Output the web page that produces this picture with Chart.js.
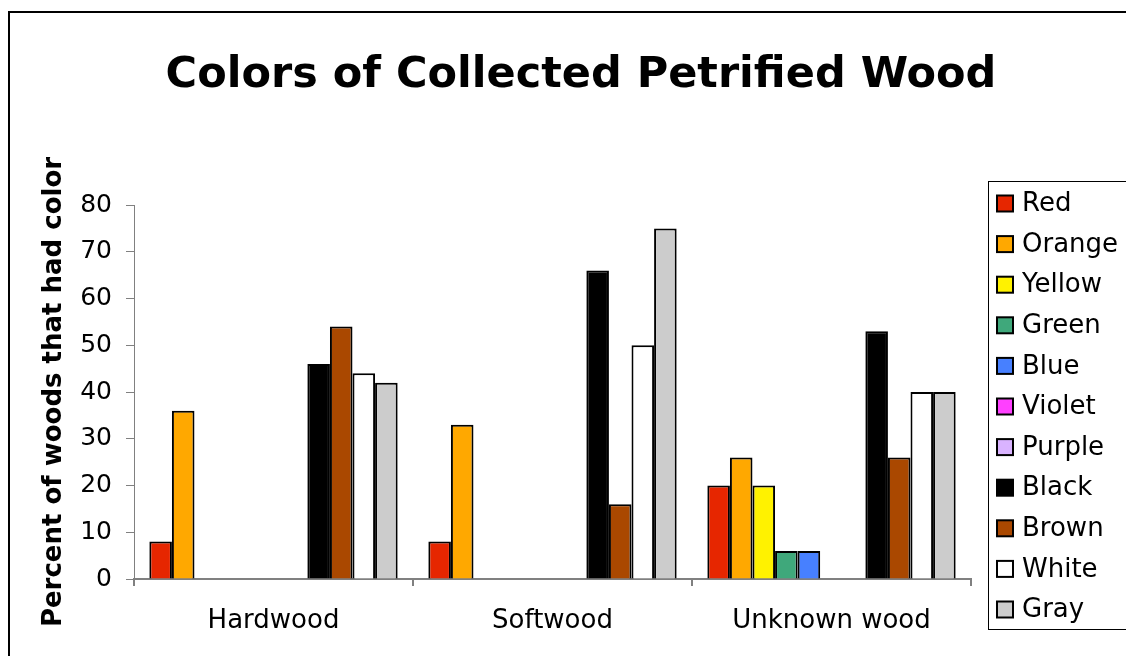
<!DOCTYPE html>
<html>
<head>
<meta charset="utf-8">
<script src="https://cdn.jsdelivr.net/npm/chart.js@4"></script>
<style>
  html, body { margin: 0; padding: 0; background: #fff; }
  #wrap { width: 1126px; height: 656px; position: relative; }
</style>
</head>
<body>
<div id="wrap"><canvas id="c" width="1126" height="656"></canvas></div>
<script>
const chartTitle = "Colors of Collected Petrified Wood";
const yAxisTitle = "Percent of woods that had color";
const categories = ["Hardwood", "Softwood", "Unknown wood"];
const seriesNames = ["Red", "Orange", "Yellow", "Green", "Blue", "Violet", "Purple", "Black", "Brown", "White", "Gray"];
const seriesColors = ["#E62600", "#FFA800", "#FFF200", "#3FA87B", "#4780FF", "#FF40FF", "#D9B3FF", "#000000", "#AA4800", "#FFFFFF", "#CCCCCC"];
const red    = [8, 8, 20];
const orange = [36, 33, 26];
const yellow = [0, 0, 20];
const green  = [0, 0, 6];
const blue   = [0, 0, 6];
const violet = [0, 0, 0];
const purple = [0, 0, 0];
const black  = [46, 66, 53];
const brown  = [54, 16, 26];
const white  = [44, 50, 40];
const gray   = [42, 75, 40];
const yTicks = [0, 10, 20, 30, 40, 50, 60, 70, 80];

const seriesValues = [red, orange, yellow, green, blue, violet, purple, black, brown, white, gray];

const FONT = "'DejaVu Sans', Verdana, sans-serif";

const datasets = seriesNames.map((name, i) => ({
  label: name,
  data: seriesValues[i].map(v => v === 0 ? null : v),
  backgroundColor: seriesColors[i],
  borderColor: '#000000',
  borderWidth: 2,
  borderSkipped: 'bottom',
  categoryPercentage: 0.89,
  barPercentage: 1.0
}));

const framePlugin = {
  id: 'frame',
  beforeDraw(chart) {
    const ctx = chart.ctx;
    ctx.save();
    ctx.fillStyle = '#fff';
    ctx.fillRect(0, 0, chart.width, chart.height);
    ctx.strokeStyle = '#000';
    ctx.lineWidth = 2;
    ctx.strokeRect(9, 12, 1200, 800);
    ctx.restore();
  },
  afterDraw(chart) {
    const ctx = chart.ctx;
    ctx.save();
    // title
    ctx.fillStyle = '#000';
    ctx.font = "bold 43px " + FONT;
    ctx.textAlign = 'center';
    ctx.textBaseline = 'alphabetic';
    ctx.fillText(chartTitle, 581, 87);
    // legend
    ctx.strokeStyle = '#000';
    ctx.lineWidth = 1;
    ctx.strokeRect(988.5, 181.5, 145, 448);
    ctx.font = "26px " + FONT;
    ctx.textAlign = 'left';
    ctx.textBaseline = 'middle';
    chart.data.datasets.forEach((ds, i) => {
      const cy = 203.5 + i * 40.6;
      ctx.fillStyle = ds.backgroundColor;
      ctx.fillRect(997, cy - 8, 16, 16);
      ctx.lineWidth = 2;
      ctx.strokeStyle = '#000';
      ctx.strokeRect(997, cy - 8, 16, 16);
      ctx.fillStyle = '#000';
      ctx.fillText(ds.label, 1022, cy + 1);
    });
    ctx.restore();
  }
};

new Chart(document.getElementById('c'), {
  type: 'bar',
  data: { labels: categories, datasets },
  options: {
    responsive: false,
    animation: false,
    devicePixelRatio: 1,
    layout: { padding: { top: 205, right: 155, left: 0, bottom: 0 } },
    plugins: {
      legend: { display: false },
      title: { display: false },
      tooltip: { enabled: false }
    },
    scales: {
      x: {
        offset: true,
        grid: { offset: true, drawOnChartArea: false, drawTicks: true, tickLength: 7, color: '#808080', lineWidth: 2 },
        border: { color: '#808080', width: 2 },
        ticks: { color: '#000', font: { family: FONT, size: 26 }, padding: 20, maxRotation: 0 },
        afterFit(scale) { scale.height = 656 - 579; }
      },
      y: {
        min: 0, max: 80,
        afterBuildTicks(scale) { scale.ticks = yTicks.map(v => ({ value: v })); },
        grid: { drawOnChartArea: false, drawTicks: true, tickLength: 8, color: '#808080', lineWidth: 1 },
        border: { color: '#808080', width: 1 },
        ticks: { color: '#000', font: { family: FONT, size: 25 }, padding: 14 },
        title: {
          display: true, text: yAxisTitle, color: '#000',
          font: { family: FONT, size: 26, weight: 'bold' },
          padding: { top: 39, bottom: 0 }
        },
        afterFit(scale) { scale.width = 134; }
      }
    }
  },
  plugins: [framePlugin]
});
</script>
</body>
</html>
